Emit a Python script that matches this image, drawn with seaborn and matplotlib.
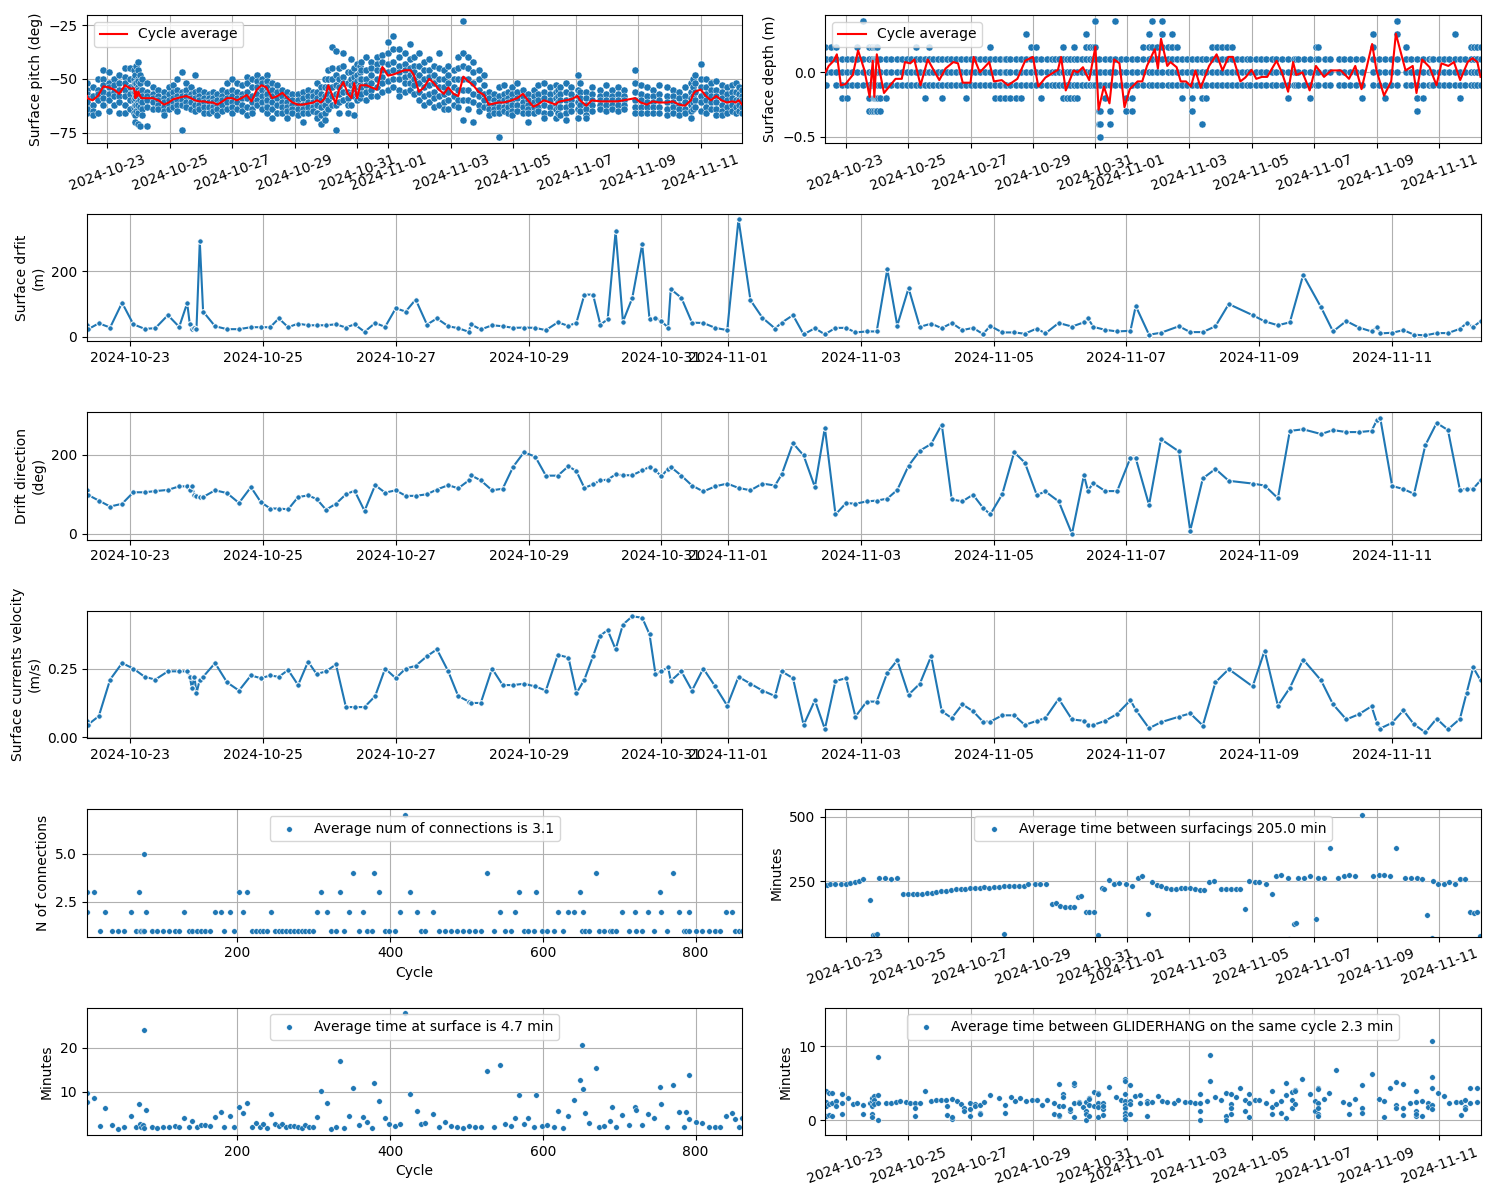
import numpy as np
import pandas as pd
import matplotlib
matplotlib.use("Agg")
import matplotlib.pyplot as plt
import matplotlib.dates as mdates
import matplotlib.ticker as mticker
from matplotlib.gridspec import GridSpec
import seaborn as sns

START = pd.Timestamp("2024-10-22")

# ---------------- surfacing-level data (days since 2024-10-22) ----------------
surf_day = [
    0.352, 0.36, 0.53, 0.70, 0.88, 1.05, 1.22, 1.38, 1.57, 1.74,
    1.86, 1.90, 1.93, 1.97, 2.00, 2.05, 2.10, 2.28, 2.46, 2.64,
    2.82, 2.97, 3.11, 3.24, 3.38, 3.53, 3.68, 3.81, 3.95, 4.10,
    4.25, 4.38, 4.53, 4.69, 4.84, 5.00, 5.15, 5.30, 5.47, 5.62,
    5.79, 5.94, 6.10, 6.13, 6.28, 6.45, 6.61, 6.77, 6.93, 7.10,
    7.26, 7.44, 7.60, 7.72, 7.84, 7.97, 8.08, 8.19, 8.31, 8.42,
    8.56, 8.71, 8.82, 8.91, 9.00, 9.10, 9.14, 9.30, 9.46, 9.63,
    9.81, 9.99, 10.16, 10.34, 10.52, 10.71, 10.81, 10.98, 11.14, 11.31,
    11.46, 11.62, 11.78, 11.92, 12.09, 12.24, 12.40, 12.55, 12.72, 12.89,
    13.06, 13.22, 13.37, 13.53, 13.69, 13.84, 13.95, 14.13, 14.31, 14.47,
    14.65, 14.78, 14.98, 15.18, 15.36, 15.42, 15.50, 15.68, 15.86, 16.06,
    16.14, 16.34, 16.52, 16.79, 16.96, 17.15, 17.34, 17.54, 17.90, 18.08,
    18.28, 18.46, 18.66, 18.93, 19.11, 19.31, 19.50, 19.69, 19.77, 19.82,
    20.00, 20.17, 20.33, 20.50, 20.67, 20.84, 21.02, 21.12, 21.22, 21.33,
]

surf_velocity = [
    .060, .045, .077, .21, .27, .25, .22, .21, .24, .24,
    .24, .22, .18, .22, .16, .21, .22, .27, .20, .17,
    .225, .215, .225, .22, .245, .19, .275, .23, .24, .265,
    .11, .11, .11, .15, .25, .215, .25, .26, .295, .32,
    .24, .15, .13, .125, .125, .25, .19, .19, .195, .185,
    .17, .30, .29, .16, .21, .295, .37, .39, .32, .41,
    .44, .435, .375, .23, .24, .255, .205, .24, .17, .25,
    .185, .115, .22, .195, .17, .15, .24, .215, .045, .135,
    .03, .205, .215, .075, .13, .13, .235, .28, .155, .195,
    .295, .095, .07, .12, .095, .057, .057, .08, .08, .045,
    .06, .07, .14, .065, .06, .045, .045, .06, .085, .135,
    .10, .033, .055, .075, .087, .043, .20, .248, .185, .315,
    .115, .18, .283, .207, .12, .065, .084, .113, .053, .032,
    .053, .098, .047, .018, .068, .029, .067, .16, .254, .208,
]

surf_drift = [
    35, 22, 41, 28, 104, 38, 24, 26, 66, 30,
    103, 38, 23, 27, 24, 292, 77, 32, 23, 23,
    29, 29, 29, 56, 29, 40, 35, 35, 35, 38,
    28, 38, 15, 42, 30, 87, 77, 114, 37, 56,
    32, 26, 15, 38, 22, 35, 32, 27, 28, 27,
    20, 44, 33, 43, 129, 129, 37, 53, 323, 46,
    118, 283, 55, 58, 47, 28, 146, 119, 43, 42,
    27, 20, 360, 112, 58, 25, 43, 66, 7, 26,
    7, 27, 27, 13, 16, 16, 207, 34, 149, 30,
    40, 26, 42, 20, 27, 8, 33, 13, 13, 9,
    25, 10, 42, 31, 44, 57, 30, 21, 16, 18,
    94, 6, 12, 32, 14, 14, 32, 100, 66, 47,
    35, 44, 189, 90, 16, 48, 28, 16, 30, 10,
    12, 20, 6, 4, 11, 11, 24, 41, 30, 47,
]

surf_direction = [
    111, 99, 84, 69, 76, 105, 105, 108, 111, 120,
    120, 111, 120, 99, 95, 94, 93, 110, 103, 78,
    118, 80, 64, 64, 62, 93, 97, 88, 61, 76,
    100, 109, 58, 123, 104, 110, 96, 96, 100, 112,
    123, 115, 135, 148, 135, 110, 114, 170, 206, 195,
    147, 147, 171, 158, 116, 125, 135, 137, 150, 148,
    148, 160, 169, 160, 145, 165, 169, 147, 122, 107,
    120, 127, 116, 110, 127, 122, 150, 229, 198, 118,
    268, 49, 78, 76, 82, 84, 89, 111, 172, 210,
    227, 276, 87, 82, 99, 66, 49, 100, 206, 180,
    98, 107, 82, 0, 148, 109, 128, 108, 108, 192,
    191, 73, 239, 208, 8, 140, 164, 134, 127, 122,
    90, 260, 264, 252, 262, 257, 257, 260, 287, 293,
    121, 113, 101, 224, 280, 262, 111, 114, 114, 135,
]

pitch_avg = [
    -58, -59, -60, -58, -53.5, -54, -55, -57, -53, -54.5,
    -54.5, -59, -56, -58, -56, -58, -59, -59, -59, -60,
    -62, -61, -59.5, -59, -58.5, -58, -59, -60, -60.5, -60.5,
    -61, -61, -62, -60.5, -59, -59, -60, -59, -57.5, -60.5,
    -55, -53, -54, -55, -59, -58, -56.5, -59, -61, -62,
    -62, -61.5, -61, -60, -61, -59, -53, -57, -61.5, -55,
    -51.5, -57, -59, -52, -59, -53, -53, -53, -54, -55,
    -44.5, -48.5, -48, -47, -46, -46, -48, -56, -54, -50,
    -52, -55, -57, -54, -57, -58, -49, -51, -53, -56,
    -57.5, -62, -61.5, -61, -61, -60.5, -60, -59, -57, -60,
    -63, -62, -60, -61, -62, -61, -60.5, -60, -59.5, -58,
    -60, -62.5, -60, -60.5, -60.5, -60.5, -60.5, -60, -59, -61,
    -62, -60.5, -61, -61, -60.5, -62, -62.5, -60, -57, -56,
    -55, -58, -60, -58, -60, -61, -60.5, -61, -60, -62,
]

pitch_samples = [
    [-52, -56, -58, -60, -63, -66], [-55, -57, -59, -61, -64], [-54, -58, -62, -65, -67],
    [-50, -55, -57, -60, -66], [-46, -50, -53, -56, -59, -62], [-47, -52, -54, -57, -60, -65],
    [-50, -53, -56, -58, -62], [-48, -52, -55, -58, -61, -66], [-45, -49, -52, -55, -58, -62, -66],
    [-45, -50, -54, -57, -60, -64],
    [-46, -50, -53, -56, -60, -63, -66], [-48, -52, -56, -59, -62, -67, -70], [-44, -52, -55, -58, -62, -65],
    [-46, -50, -54, -58, -61, -64, -71], [-42, -51, -55, -58, -62, -66], [-48, -52, -56, -60, -63, -72],
    [-50, -55, -58, -61, -64, -67], [-52, -56, -58, -60, -63, -72], [-54, -57, -59, -61, -64],
    [-55, -58, -60, -62, -64],
    [-56, -59, -61, -63, -65, -67], [-54, -57, -60, -62, -64], [-53, -56, -59, -61, -63],
    [-50, -55, -58, -60, -62, -65], [-47, -56, -58, -60, -62, -74], [-52, -55, -58, -61, -63],
    [-54, -57, -59, -61, -64], [-48, -56, -59, -62, -65], [-55, -58, -60, -62, -64],
    [-56, -59, -61, -63, -66],
    [-57, -59, -61, -63, -66], [-56, -59, -61, -63, -65], [-57, -60, -62, -64, -67],
    [-55, -58, -60, -62, -65], [-52, -56, -59, -61, -64], [-50, -55, -58, -61, -63, -66],
    [-52, -56, -59, -61, -64], [-53, -57, -59, -62, -65], [-49, -52, -56, -59, -63, -67],
    [-50, -54, -58, -61, -64, -66],
    [-48, -51, -54, -57, -60, -62], [-50, -52, -55, -58, -61, -64], [-48, -52, -55, -58, -62, -66],
    [-51, -54, -57, -60, -63], [-52, -55, -58, -61, -64, -68], [-53, -56, -59, -62, -66],
    [-55, -58, -61, -63, -66], [-56, -59, -61, -63, -65, -68], [-57, -60, -62, -64, -66],
    [-57, -60, -62, -64, -67],
    [-56, -59, -62, -64, -66, -70], [-55, -58, -61, -63, -66], [-56, -58, -61, -63, -65],
    [-52, -56, -59, -62, -66, -68], [-54, -57, -60, -63, -67, -71], [-50, -54, -58, -62, -66, -69],
    [-46, -50, -54, -57, -60, -64], [-35, -45, -50, -54, -58, -62], [-37, -48, -53, -57, -62, -74],
    [-45, -50, -54, -57, -61, -66],
    [-38, -44, -49, -52, -56, -60], [-47, -52, -56, -59, -62, -66], [-41, -47, -50, -53, -57, -62],
    [-45, -49, -52, -55, -58, -67], [-43, -48, -51, -54, -57, -60], [-44, -47, -50, -53, -56, -59],
    [-42, -46, -50, -54, -57], [-40, -46, -50, -53, -56, -60], [-42, -45, -48, -52, -55, -58],
    [-40, -43, -46, -50, -54, -58],
    [-39, -42, -46, -49, -52, -56], [-33, -38, -43, -47, -51, -55], [-30, -36, -42, -46, -50, -54],
    [-36, -40, -44, -47, -50, -55, -58], [-38, -43, -46, -49, -52, -56], [-34, -41, -45, -48, -52, -55],
    [-40, -44, -47, -50, -53, -57], [-38, -44, -48, -52, -56, -60], [-42, -46, -50, -54, -58, -62],
    [-41, -46, -49, -53, -57, -61],
    [-44, -48, -52, -56, -59, -63], [-38, -45, -50, -54, -58, -62], [-46, -50, -54, -57, -61, -64],
    [-44, -48, -52, -56, -60, -64], [-46, -50, -54, -58, -62], [-40, -45, -50, -55, -60, -63],
    [-23, -38, -44, -50, -55, -60, -69], [-40, -45, -50, -55, -60, -64], [-42, -47, -52, -57, -61, -70],
    [-46, -50, -55, -58, -62, -65],
    [-48, -53, -57, -60, -63], [-56, -59, -62, -64, -67], [-57, -60, -62, -64, -66],
    [-54, -58, -61, -63, -66, -77], [-53, -57, -60, -63, -65], [-56, -59, -61, -63, -66],
    [-54, -57, -60, -62, -65, -67], [-52, -56, -59, -62, -65], [-55, -58, -61, -63, -66],
    [-57, -60, -62, -64, -66, -70],
    [-55, -58, -61, -63, -66], [-53, -57, -60, -63, -65], [-52, -56, -59, -62, -66, -68],
    [-54, -57, -60, -63, -66], [-53, -56, -59, -62, -64, -68], [-55, -58, -61, -63, -66],
    [-54, -57, -60, -63, -67], [-52, -56, -60, -63, -66, -69], [-54, -57, -60, -62, -65],
    [-48, -55, -58, -61, -64, -68],
    [-52, -56, -59, -62, -65], [-56, -59, -62, -64, -67, -68], [-54, -57, -60, -62, -65],
    [-55, -58, -60, -62, -64], [-53, -57, -60, -62, -65], [-55, -58, -60, -62, -64],
    [-54, -57, -60, -62, -65], [-55, -58, -60, -62, -64], [-46, -52, -56, -60, -63, -66],
    [-53, -57, -60, -63, -66],
    [-54, -58, -61, -63, -66], [-55, -58, -61, -63, -66], [-53, -57, -60, -63, -66],
    [-54, -58, -61, -64, -67], [-55, -58, -61, -63, -66], [-56, -59, -62, -64, -67],
    [-54, -58, -61, -64, -66], [-52, -56, -59, -62, -65, -68], [-50, -54, -58, -61, -64],
    [-48, -52, -56, -60, -63],
    [-43, -50, -54, -58, -61, -65], [-50, -54, -57, -60, -63, -66], [-52, -55, -58, -61, -64],
    [-51, -55, -58, -61, -64, -67], [-53, -56, -59, -62, -65, -67], [-54, -57, -60, -63, -66],
    [-53, -56, -59, -62, -65], [-52, -56, -60, -63, -66], [-54, -57, -60, -62, -65],
    [-55, -58, -60, -63, -66],
]

# surface depth samples per surfacing, in tenths of a metre
depth_samples_dm = [
    [-1, 0, 1, 2], [-1, 0, 1], [0, 1, 2], [-1, 0, 1, 2], [-2, -1, 0, 1],
    [-2, -1, 0, 1], [-1, 0, 1], [-1, 0, 1, 2], [-1, 0, 1, 4], [-3, -2, -1, 0, 1, 2],
    [-3, -1, 0, 1, 2], [-3, -2, -1, 1, 2], [-2, -1, 0, 1, 2], [-3, -2, -1, 0, 1, 2], [-3, -2, -1, 0, 1, 2],
    [-2, -1, 0, 1], [-3, -2, -1, 0, 1], [-2, -1, 0, 1], [-1, 0, 1], [-1, 0, 1],
    [-1, 0, 1], [-1, 0, 1], [-1, 0, 1], [-1, 0, 1, 2], [-1, 0, 1],
    [-2, -1, 0, 1], [-1, 0, 1, 2], [-1, 0, 1], [-1, 0, 1], [-2, -1, 0, 1],
    [-1, 0, 1], [-1, 0, 1], [-1, 0, 1], [-1, 0, 1], [-2, -1, 0, 1],
    [-1, 0, 1], [-1, 0, 1], [-1, 0, 1], [-1, 0, 1], [-1, 0, 1, 2],
    [-2, -1, 0, 1], [-2, -1, 0, 1], [-2, -1, 0, 1], [-1, 0, 1], [-2, -1, 0, 1],
    [-2, -1, 0, 1], [-2, -1, 0, 1], [-1, 0, 1, 3], [-1, 0, 1, 2], [-1, 0, 1, 2],
    [-2, -1, 0, 1], [-1, 0, 1], [-1, 0, 1], [-1, 0, 1], [-1, 0, 1],
    [-2, -1, 0, 1, 2], [-2, -1, 0, 1], [-2, -1, 0, 1], [-2, -1, 0, 1, 2], [-2, -1, 0, 1],
    [-1, 0, 1], [-1, 0, 1, 2, 3], [-1, 0, 1, 2], [-1, 0, 1, 2], [-1, 0, 1, 2, 4],
    [-4, -3, -1, 0, 1], [-5, -4, -3, -1, 0], [-2, -1, 0, 1], [-4, -3, -1, 0, 1], [-1, 0, 1, 4],
    [-1, 0, 1], [-3, -2, -1, 0, 1], [-3, -2, -1, 0, 1], [-1, 0, 1], [-1, 0, 1, 2],
    [-1, 0, 1, 2, 3], [-1, 0, 1, 2, 4], [-1, 0, 1, 2], [-1, 0, 1, 2, 3, 4], [-1, 0, 1, 2],
    [-1, 0, 1, 2, 3], [-1, 0, 1, 2], [-2, -1, 0, 1], [-1, 0, 1], [-3, -2, -1, 0, 1],
    [-1, 0, 1], [-4, -2, -1, 0, 1], [-2, -1, 0, 1], [-1, 0, 1, 2], [-1, 0, 1, 2],
    [-1, 0, 1, 2], [-1, 0, 1, 2], [-1, 0, 1, 2], [-1, 0, 1], [-1, 0, 1],
    [-1, 0, 1], [-1, 0, 1], [-1, 0, 1], [-1, 0, 1], [-1, 0, 1],
    [-1, 0, 1], [-1, 0, 1], [-1, 0, 1], [-2, -1, 0, 1], [-1, 0, 1],
    [-1, 0, 1], [-1, 0, 1], [-1, 0, 1], [-2, -1, 0, 1], [-1, 0, 1, 2],
    [-1, 0, 1, 2], [-1, 0, 1], [-1, 0, 1], [-1, 0, 1], [-1, 0, 1],
    [-1, 0, 1], [-1, 0, 1], [-2, -1, 0, 1], [-1, 0, 1, 2, 3], [-1, 0, 1],
    [-2, -1, 0, 1], [-1, 0, 1], [-1, 0, 1, 3, 4], [-1, 0, 1, 2], [-1, 0, 1],
    [-3, -2, -1, 0, 1], [-2, -1, 0, 1], [-1, 0, 1], [-1, 0, 1], [-1, 0, 1],
    [-1, 0, 1], [-1, 0, 1], [-1, 0, 1], [-1, 0, 1, 3], [-2, -1, 0, 1],
    [-1, 0, 1], [-1, 0, 1, 2], [-1, 0, 1, 2], [-1, 0, 1, 2], [-1, 0, 1, 2],
]

depth_avg_day = [
    0.352, 0.46, 0.62, 0.72, 0.85, 1.0, 1.23, 1.4, 1.6, 1.77,
    1.87, 1.92, 2.0, 2.1, 2.23, 2.6, 2.8, 2.9, 3.07, 3.2,
    3.4, 3.63, 4.0, 4.2, 4.45, 4.6, 4.75, 5.0, 5.1, 5.3,
    5.6, 5.75, 6.0, 6.2, 6.5, 6.75, 7.0, 7.17, 7.4, 7.8,
    7.9, 8.05, 8.3, 8.43, 8.6, 8.8, 9.0, 9.1, 9.27, 9.45,
    9.6, 9.77, 9.93, 10.1, 10.35, 10.5, 10.65, 10.9, 11.0, 11.1,
    11.3, 11.4, 11.6, 11.73, 11.9, 12.06, 12.2, 12.37, 12.64, 12.88,
    13.07, 13.26, 13.4, 13.64, 13.8, 14.0, 14.15, 14.33, 14.5, 14.8,
    14.97, 15.17, 15.33, 15.43, 15.63, 15.86, 16.06, 16.32, 16.55, 16.86,
    17.12, 17.32, 17.52, 17.86, 18.0, 18.24, 18.47, 18.62, 18.93, 19.16,
    19.28, 19.46, 19.7, 19.92, 20.08, 20.3, 20.48, 20.68, 20.92, 21.07,
    21.23, 21.33,
]
depth_avg = [
    0.0, 0.05, 0.09, 0.14, -0.1, -0.09, -0.02, 0.17, 0.02, -0.19,
    0.09, -0.19, 0.14, 0.0, -0.16, -0.05, -0.05, 0.08, 0.07, 0.1,
    -0.1, 0.1, -0.06, 0.03, 0.08, 0.07, -0.08, -0.08, 0.12, 0.0,
    0.08, -0.07, -0.06, -0.1, -0.05, 0.09, 0.12, -0.11, -0.04, 0.02,
    0.12, -0.14, 0.015, 0.0, 0.04, -0.06, 0.2, -0.29, -0.11, -0.24,
    0.1, 0.07, -0.27, -0.13, -0.07, -0.07, 0.05, 0.18, 0.03, 0.26,
    0.05, 0.08, 0.04, -0.07, -0.07, -0.11, 0.015, -0.12, 0.05, 0.14,
    0.015, 0.12, 0.12, -0.07, -0.04, 0.02, -0.05, -0.035, -0.035, 0.09,
    0.0, -0.15, 0.08, -0.02, 0.0, -0.14, 0.05, -0.035, 0.015, 0.015,
    -0.05, 0.05, -0.13, 0.22, 0.015, -0.18, -0.07, 0.3, 0.015, 0.05,
    -0.16, 0.1, 0.04, -0.1, 0.07, 0.05, 0.08, -0.06, 0.08, 0.11,
    0.08, -0.035,
]

# ---------------- cycle-level data ----------------
cycle = [
    3, 3, 12, 20, 27, 36, 44, 51, 60, 67,
    71, 72, 74, 76, 77, 78, 80, 88, 95, 103,
    111, 118, 123, 130, 136, 141, 147, 152, 158, 164,
    171, 178, 183, 190, 195, 202, 207, 213, 219, 224,
    229, 234, 239, 244, 249, 254, 259, 264, 269, 274,
    279, 284, 289, 294, 299, 304, 310, 317, 322, 329,
    334, 340, 346, 351, 359, 365, 370, 376, 379, 385,
    393, 399, 406, 413, 420, 426, 435, 441, 445, 456,
    464, 472, 480, 488, 496, 503, 511, 519, 527, 536,
    544, 550, 558, 564, 569, 575, 581, 588, 591, 599,
    606, 614, 620, 626, 633, 641, 649, 651, 652, 655,
    661, 669, 674, 680, 688, 690, 696, 704, 713, 721,
    722, 730, 738, 746, 754, 755, 763, 771, 778, 785,
    788, 791, 792, 801, 809, 817, 825, 832, 840, 848,
    852, 857, 861,
]
n_connections = [
    2, 3, 3, 1, 2, 1, 1, 1, 2, 1,
    3, 1, 1, 1, 1, 5, 2, 1, 1, 1,
    1, 1, 1, 2, 1, 1, 1, 1, 1, 1,
    2, 2, 1, 2, 1, 3, 2, 3, 1, 1,
    1, 1, 1, 2, 1, 1, 1, 1, 1, 1,
    1, 1, 1, 1, 1, 2, 3, 2, 1, 1,
    3, 1, 2, 4, 1, 2, 1, 1, 4, 3,
    1, 1, 1, 2, 7, 3, 2, 1, 1, 2,
    1, 1, 1, 1, 1, 1, 1, 1, 4, 1,
    2, 1, 1, 2, 3, 1, 1, 1, 3, 1,
    1, 1, 2, 1, 2, 2, 3, 1, 2, 1,
    1, 4, 1, 1, 1, 1, 1, 2, 1, 2,
    1, 1, 2, 1, 3, 2, 1, 4, 2, 1,
    1, 2, 1, 1, 1, 1, 1, 1, 2, 2,
    1, 1, 1,
]
time_at_surface = [
    9.6, 7.6, 8.5, 2.1, 6.2, 2.3, 1.4, 2.0, 4.4, 2.0,
    7.1, 2.7, 2.0, 2.3, 1.8, 23.9, 5.8, 2.0, 1.8, 2.0,
    2.0, 2.2, 2.0, 3.9, 2.0, 3.3, 2.0, 2.4, 2.4, 2.2,
    4.2, 5.3, 2.0, 4.4, 2.0, 6.4, 5.1, 7.3, 2.0, 2.8,
    2.0, 2.6, 1.8, 4.8, 2.6, 2.2, 2.6, 2.0, 2.2, 2.2,
    2.0, 1.8, 2.4, 2.0, 2.0, 4.2, 10.2, 7.3, 1.4, 2.0,
    16.9, 1.8, 4.4, 10.8, 2.3, 4.2, 3.0, 1.8, 11.9, 7.8,
    3.9, 2.6, 2.2, 2.6, 27.8, 9.4, 5.5, 2.6, 2.8, 4.8,
    2.0, 3.0, 2.2, 2.0, 1.8, 2.2, 2.0, 2.0, 14.6, 2.0,
    16.0, 2.6, 2.2, 3.9, 9.2, 2.6, 3.9, 2.0, 9.2, 2.2,
    2.4, 2.0, 5.5, 1.8, 4.4, 8.1, 12.6, 20.5, 10.5, 5.1,
    2.8, 15.3, 2.0, 2.2, 3.3, 6.4, 2.0, 4.6, 2.3, 6.6,
    5.8, 2.3, 4.8, 3.9, 11.0, 7.1, 2.0, 11.4, 5.3, 2.0,
    5.3, 13.7, 3.8, 3.1, 2.8, 2.0, 2.0, 2.0, 4.4, 5.1,
    3.8, 2.0, 3.9,
]

between_day = [
    0.39, 0.51, 0.66, 0.85, 1.0, 1.15, 1.31, 1.43, 1.57, 1.77,
    1.89, 1.95, 2.0, 2.07, 2.27, 2.46, 2.64, 2.84, 2.99, 3.15,
    3.3, 3.45, 3.6, 3.76, 3.91, 4.06, 4.22, 4.37, 4.52, 4.68,
    4.83, 4.98, 5.14, 5.29, 5.44, 5.6, 5.75, 5.9, 6.06, 6.08,
    6.24, 6.39, 6.55, 6.7, 6.85, 7.05, 7.24, 7.41, 7.62, 7.74,
    7.86, 8.02, 8.17, 8.32, 8.43, 8.54, 8.71, 8.81, 8.94, 9.09,
    9.2, 9.27, 9.43, 9.58, 9.77, 9.98, 10.16, 10.35, 10.5, 10.68,
    10.81, 10.96, 11.11, 11.27, 11.42, 11.57, 11.73, 11.88, 12.03, 12.19,
    12.34, 12.49, 12.65, 12.8, 13.03, 13.18, 13.34, 13.49, 13.64, 13.8,
    13.92, 14.1, 14.25, 14.45, 14.64, 14.79, 14.94, 15.17, 15.2, 15.37,
    15.43, 15.48, 15.68, 15.86, 16.05, 16.14, 16.32, 16.52, 16.78, 16.97,
    17.12, 17.32, 17.52, 17.89, 18.09, 18.24, 18.44, 18.62, 18.9, 19.11,
    19.31, 19.46, 19.62, 19.77, 19.82, 19.97, 20.15, 20.31, 20.51, 20.66,
    20.84, 21.0, 21.12, 21.23, 21.3,
]
between_min = [
    234, 241, 241, 241, 241, 243, 247, 251, 260, 175,
    42, 42, 44, 264, 264, 260, 264, 202, 199, 202,
    202, 202, 204, 205, 208, 212, 212, 215, 218, 218,
    220, 222, 225, 225, 228, 225, 228, 228, 45, 230,
    230, 230, 230, 230, 238, 238, 238, 241, 162, 166,
    155, 151, 151, 151, 188, 191, 132, 129, 132, 41,
    225, 221, 254, 238, 243, 238, 230, 264, 270, 123,
    247, 234, 230, 225, 221, 221, 225, 225, 225, 221,
    215, 215, 247, 250, 221, 221, 221, 221, 221, 140,
    251, 247, 247, 241, 202, 270, 274, 264, 25, 84,
    87, 264, 264, 270, 104, 264, 264, 378, 264, 270,
    274, 270, 507, 270, 274, 274, 270, 378, 264, 264,
    264, 260, 119, 27, 251, 241, 238, 247, 238, 260,
    260, 129, 126, 129, 35,
]

hang_day = [
    0.36, 0.46, 0.57, 0.69, 0.88, 1.08, 1.23, 1.38, 1.57, 1.77,
    1.84, 1.92, 2.03, 2.29, 2.46, 2.61, 2.73, 2.92, 3.07, 3.21,
    3.38, 3.53, 3.73, 3.91, 4.06, 4.22, 4.25, 4.40, 4.56, 4.68,
    4.80, 4.98, 5.14, 5.29, 5.44, 5.64, 5.90, 6.10, 6.29, 6.44,
    6.59, 6.79, 6.98, 7.13, 7.28, 7.44, 7.67, 7.82, 7.97, 8.20,
    8.32, 8.48, 8.59, 8.69, 8.78, 8.94, 9.09, 9.24, 9.43, 9.66,
    9.81, 9.96, 10.12, 10.27, 10.42, 10.65, 10.81, 10.99, 11.14, 11.30,
    11.50, 11.65, 11.88, 12.03, 12.19, 12.34, 12.57, 12.68, 12.83, 13.03,
    13.18, 13.34, 13.49, 13.64, 13.79, 13.92, 14.10, 14.25, 14.45, 14.64,
    14.79, 14.94, 15.10, 15.28, 15.40, 15.63, 15.86, 16.02, 16.14, 16.32,
    16.48, 16.71, 16.94, 17.12, 17.32, 17.52, 17.86, 18.09, 18.24, 18.44,
    18.62, 18.85, 19.08, 19.27, 19.46, 19.66, 19.77, 19.97, 20.15, 20.31,
    20.54, 20.69, 20.84, 21.00, 21.23,
]
hang_values = [
    [4.0, 2.5, 2.0, 0.6], [3.7, 2.2, 0.7], [3.7, 2.4, 0.6], [2.6, 1.9], [3.6, 2.3, 0.9],
    [3.0], [2.2], [2.4], [2.1, 0.9], [2.4],
    [2.6, 3.0, 2.0, 0.8, 0.5], [3.3, 2.8, 2.2], [8.5, 3.4, 2.3, 0.1], [2.4], [2.4],
    [2.5], [2.6], [2.5], [2.4], [2.4, 1.7, 0.6],
    [2.3], [3.9], [2.6], [2.8], [2.8],
    [2.7], [2.0, 0.7], [2.9, 0.2, 0.5], [2.6], [2.2],
    [1.6, 1.2], [2.3, 1.5, 0.6], [2.2, 1.9], [2.1, 1.0, 0.8], [2.5],
    [3.4], [3.0], [2.1, 1.0], [3.1], [2.6],
    [3.0], [2.6], [2.7], [2.7], [2.1],
    [2.7], [2.4, 0.8], [4.9, 2.0, 0.6, 0.7], [3.6, 3.2, 2.0], [1.2, 1.5],
    [4.8, 5.0, 2.3, 0.4], [2.5, 2.3], [1.8], [2.5, 1.2, 0.8, 0.0], [3.0, 2.9, 2.1, 0.6],
    [3.8, 1.9], [3.7, 3.6, 2.4, 1.8, 0.5], [2.4, 1.5, 0.7, 2.0], [4.5], [3.2],
    [2.8], [5.6, 5.3, 3.6, 2.6, 2.1, 1.6, 1.0, 0.6, 0.2], [4.7, 2.6, 2.2, 0.8], [3.3], [3.4, 2.4],
    [2.6, 2.3, 0.6], [2.5], [3.3], [2.6], [2.5],
    [2.4], [2.7], [2.5], [2.5], [2.4],
    [3.6, 2.4, 1.3, 0.1], [2.6], [8.8, 5.3], [3.2], [2.7],
    [3.7, 0.6, 0.1], [3.6, 2.2, 1.6, 0.8], [3.1], [4.3], [2.7, 1.3],
    [3.6, 2.3, 0.4], [2.7], [2.8], [2.4], [3.9, 1.8, 0.9],
    [2.2], [2.6, 1.0], [5.1, 3.4, 0.3], [3.8, 2.7, 1.6], [4.1, 3.9, 2.2],
    [5.6], [3.5], [2.6, 1.3], [4.4, 4.2, 2.4, 1.7, 0.9, 0.6], [2.9],
    [3.7], [6.8], [2.5], [2.2, 0.8], [2.9],
    [4.8, 1.7, 1.0], [6.3], [2.9], [2.6, 0.4], [4.4],
    [5.2, 2.1, 1.6], [4.9, 1.7, 0.7], [2.3], [2.5, 4.0, 1.3, 0.6, 0.9], [2.6, 0.6],
    [2.4, 1.8], [10.7, 5.8, 4.3, 2.1, 1.5], [3.7], [3.3], [2.4],
    [2.5], [2.5, 0.7], [2.8, 1.8, 1.5], [4.3, 2.4], [4.4, 2.5],
]

# ---------------- labels ----------------
legend_connections = "Average num of connections is 3.1"
legend_surface_time = "Average time at surface is 4.7 min"
legend_between = "Average time between surfacings 205.0 min"
legend_hang = "Average time between GLIDERHANG on the same cycle 2.3 min"

BLUE = "#1f77b4"


def to_dt(days):
    return START + pd.to_timedelta(np.asarray(days, dtype=float), unit="D")


def flatten(days, groups):
    xs, ys = [], []
    for d, g in zip(days, groups):
        for v in g:
            xs.append(d)
            ys.append(v)
    return to_dt(xs), np.asarray(ys, dtype=float)


fig = plt.figure(figsize=(15, 12), dpi=100)
gs = GridSpec(6, 2, figure=fig, left=0.058, right=0.987, top=0.9875,
              bottom=0.054, hspace=0.555, wspace=0.127)

ax_pitch = fig.add_subplot(gs[0, 0])
ax_depth = fig.add_subplot(gs[0, 1])
ax_drift = fig.add_subplot(gs[1, :])
ax_dir = fig.add_subplot(gs[2, :])
ax_vel = fig.add_subplot(gs[3, :])
ax_conn = fig.add_subplot(gs[4, 0])
ax_betw = fig.add_subplot(gs[4, 1])
ax_tsurf = fig.add_subplot(gs[5, 0])
ax_hang = fig.add_subplot(gs[5, 1])

surf_dt = to_dt(surf_day)
xmin, xmax = surf_dt.min(), surf_dt.max()

# --- pitch ---
px, py = flatten(surf_day, pitch_samples)
sns.scatterplot(x=px, y=py, s=26, color=BLUE, edgecolor="white", linewidth=0.3,
                ax=ax_pitch, legend=False, zorder=2)
sns.lineplot(x=surf_dt, y=pitch_avg, color="red", linewidth=1.5, label="Cycle average",
             ax=ax_pitch, sort=False, estimator=None, zorder=3)
ax_pitch.set_ylabel("Surface pitch (deg)")
ax_pitch.legend(loc="upper left")
ax_pitch.yaxis.set_major_locator(mticker.MultipleLocator(25))

# --- depth ---
dx, dy = flatten(surf_day, depth_samples_dm)
sns.scatterplot(x=dx, y=dy / 10.0, s=26, color=BLUE, edgecolor="white", linewidth=0.3,
                ax=ax_depth, legend=False, zorder=2)
sns.lineplot(x=to_dt(depth_avg_day), y=depth_avg, color="red", linewidth=1.5,
             label="Cycle average", ax=ax_depth, sort=False, estimator=None, zorder=3)
ax_depth.set_ylabel("Surface depth (m)")
ax_depth.legend(loc="upper left")
ax_depth.yaxis.set_major_locator(mticker.MultipleLocator(0.5))

# --- drift, direction, velocity ---
for ax, vals, lab, step in [(ax_drift, surf_drift, "Surface drfit\n(m)", 200),
                            (ax_dir, surf_direction, "Drift direction\n(deg)", 200),
                            (ax_vel, surf_velocity, "Surface currents velocity\n(m/s)", 0.25)]:
    sns.lineplot(x=surf_dt, y=vals, color=BLUE, marker="o", markersize=4,
                 linewidth=1.5, ax=ax, sort=False, estimator=None, legend=False)
    ax.set_ylabel(lab)
    ax.yaxis.set_major_locator(mticker.MultipleLocator(step))

# --- connections ---
sns.scatterplot(x=cycle, y=n_connections, s=16, color=BLUE, label=legend_connections, ax=ax_conn)
ax_conn.set_ylabel("N of connections")
ax_conn.set_xlabel("Cycle")
ax_conn.legend(loc="upper center")
ax_conn.set_xlim(min(cycle), max(cycle))
ax_conn.yaxis.set_major_locator(mticker.MultipleLocator(2.5))
ax_conn.xaxis.set_major_locator(mticker.MultipleLocator(200))

# --- time at surface ---
sns.scatterplot(x=cycle, y=time_at_surface, s=16, color=BLUE, label=legend_surface_time, ax=ax_tsurf)
ax_tsurf.set_ylabel("Minutes")
ax_tsurf.set_xlabel("Cycle")
ax_tsurf.legend(loc="upper center")
ax_tsurf.set_xlim(min(cycle), max(cycle))
ax_tsurf.yaxis.set_major_locator(mticker.MultipleLocator(10))
ax_tsurf.xaxis.set_major_locator(mticker.MultipleLocator(200))

# --- time between surfacings ---
sns.scatterplot(x=to_dt(between_day), y=between_min, s=16, color=BLUE, label=legend_between, ax=ax_betw)
ax_betw.set_ylabel("Minutes")
ax_betw.legend(loc="upper center")
ax_betw.set_ylim(34, 531)
ax_betw.yaxis.set_major_locator(mticker.MultipleLocator(250))

# --- gliderhang ---
hx, hy = flatten(hang_day, hang_values)
sns.scatterplot(x=hx, y=hy, s=16, color=BLUE, label=legend_hang, ax=ax_hang)
ax_hang.set_ylabel("Minutes")
ax_hang.legend(loc="upper center")
ax_hang.set_ylim(-2, 15.2)
ax_hang.yaxis.set_major_locator(mticker.MultipleLocator(10))

date_axes = [ax_pitch, ax_depth, ax_drift, ax_dir, ax_vel, ax_betw, ax_hang]
for ax in date_axes:
    ax.set_xlim(xmin, xmax)
    ax.xaxis.set_major_locator(mdates.DayLocator(bymonthday=range(1, 32, 2)))
    ax.xaxis.set_major_formatter(mdates.DateFormatter("%Y-%m-%d"))
    ax.set_xlabel("")
for ax in [ax_pitch, ax_depth, ax_betw, ax_hang]:
    ax.tick_params(axis="x", labelrotation=20)

for ax in fig.axes:
    ax.grid(True)
    ax.set_axisbelow(True)

fig.savefig("out.png", dpi=100)
